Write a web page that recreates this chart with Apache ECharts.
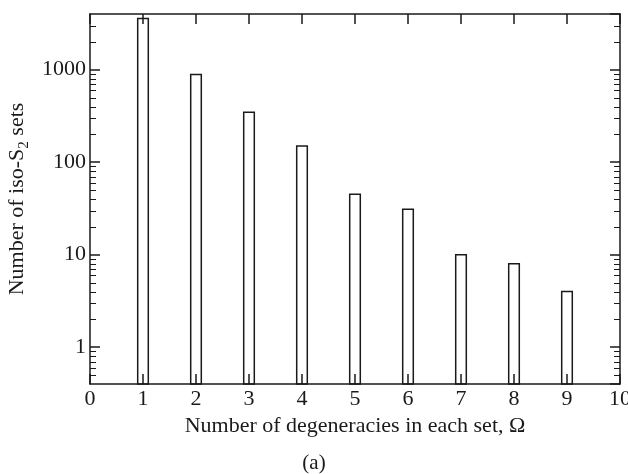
<!DOCTYPE html>
<html>
<head>
<meta charset="utf-8">
<script src="https://cdn.jsdelivr.net/npm/echarts@6/dist/echarts.min.js"></script>
<style>
  html, body { margin: 0; padding: 0; background: #fff; }
  #chart { width: 628px; height: 474px; }
</style>
</head>
<body>
<div id="chart"></div>
<script>
// Degeneracy count per set and how many iso-S2 sets have it
const omega = [1, 2, 3, 4, 5, 6, 7, 8, 9];
const setCounts = [3570, 885, 346, 150, 45, 31, 10, 8, 4];

// Axis ranges
const X_MIN = 0, X_MAX = 10;
const Y_MIN = 0.4, Y_MAX = 4000;

// Minor tick positions of the log axis (2..9 within each decade)
const minorMultipliers = [2, 3, 4, 5, 6, 7, 8, 9];
const decades = [0.1, 1, 10, 100, 1000];
const minorTicks = [];
decades.forEach(d => minorMultipliers.forEach(m => {
  const v = +(d * m).toPrecision(3);
  if (v > Y_MIN && v < Y_MAX) minorTicks.push([0, v]);
}));

const FONT = '"Liberation Serif", "DejaVu Serif", serif';
const INK = '#1a1a1a';
const BAR_HALF = 0.1;

const chart = echarts.init(document.getElementById('chart'), null, { renderer: 'canvas' });

const tickStyle = { show: true, inside: true, length: 10, lineStyle: { color: INK, width: 1.5 } };
const lineStyle = { show: true, onZero: false, lineStyle: { color: INK, width: 1.5 } };

chart.setOption({
  backgroundColor: '#fff',
  animation: false,
  title: {
    text: '(a)',
    left: 'center',
    top: 448,
    textStyle: { fontFamily: FONT, fontSize: 21, fontWeight: 'normal', color: INK }
  },
  grid: { left: 90, right: 8, top: 14, bottom: 90, containLabel: false, outerBoundsMode: 'none' },
  xAxis: [
    {
      type: 'value', position: 'bottom', min: X_MIN, max: X_MAX, interval: 1,
      name: 'Number of degeneracies in each set, Ω',
      nameLocation: 'middle', nameGap: 22,
      nameTextStyle: { fontFamily: FONT, fontSize: 22, color: INK },
      axisLine: lineStyle, axisTick: tickStyle,
      axisLabel: { fontFamily: FONT, fontSize: 22, color: INK, margin: 4 },
      splitLine: { show: false }
    },
    {
      type: 'value', position: 'top', min: X_MIN, max: X_MAX, interval: 1,
      axisLine: lineStyle, axisTick: tickStyle,
      axisLabel: { show: false }, splitLine: { show: false }
    }
  ],
  yAxis: [
    {
      type: 'log', logBase: 10, position: 'left', min: Y_MIN, max: Y_MAX,
      name: '{t|Number of iso-S}{s|2}{t| sets}',
      nameLocation: 'middle', nameGap: 58, nameRotate: 90,
      nameTextStyle: {
        fontFamily: FONT, fontSize: 22, color: INK,
        rich: {
          t: { fontFamily: FONT, fontSize: 22, color: INK },
          s: { fontFamily: FONT, fontSize: 15, color: INK, padding: [13, 0, 0, 0] }
        }
      },
      axisLine: lineStyle, axisTick: tickStyle,
      axisLabel: {
        fontFamily: FONT, fontSize: 22, color: INK, margin: 4,
        showMinLabel: false, showMaxLabel: false,
        formatter: v => String(v)
      },
      splitLine: { show: false }
    },
    {
      type: 'log', logBase: 10, position: 'right', min: Y_MIN, max: Y_MAX,
      axisLine: lineStyle, axisTick: tickStyle,
      axisLabel: { show: false }, splitLine: { show: false }
    }
  ],
  series: [
    {
      type: 'custom',
      name: 'sets',
      xAxisIndex: 0, yAxisIndex: 0,
      data: omega.map((w, i) => [w, setCounts[i]]),
      encode: { x: 0, y: 1 },
      renderItem: function (params, api) {
        const x = api.value(0), v = api.value(1);
        const tl = api.coord([x - BAR_HALF, v]);
        const br = api.coord([x + BAR_HALF, Y_MIN]);
        return {
          type: 'rect',
          shape: { x: tl[0], y: tl[1], width: br[0] - tl[0], height: br[1] - tl[1] },
          style: { fill: 'rgba(0,0,0,0)', stroke: INK, lineWidth: 1.5 }
        };
      }
    },
    {
      type: 'custom',
      name: 'minor ticks',
      xAxisIndex: 0, yAxisIndex: 0,
      data: minorTicks,
      encode: { x: 0, y: 1 },
      silent: true,
      renderItem: function (params, api) {
        const cs = params.coordSys;
        const y = Math.round(api.coord([0, api.value(1)])[1]) + 0.5;
        const st = { stroke: INK, lineWidth: 1 };
        return {
          type: 'group',
          children: [
            { type: 'line', shape: { x1: cs.x, y1: y, x2: cs.x + 6, y2: y }, style: st },
            { type: 'line', shape: { x1: cs.x + cs.width - 6, y1: y, x2: cs.x + cs.width, y2: y }, style: st }
          ]
        };
      }
    }
  ]
});
</script>
</body>
</html>
